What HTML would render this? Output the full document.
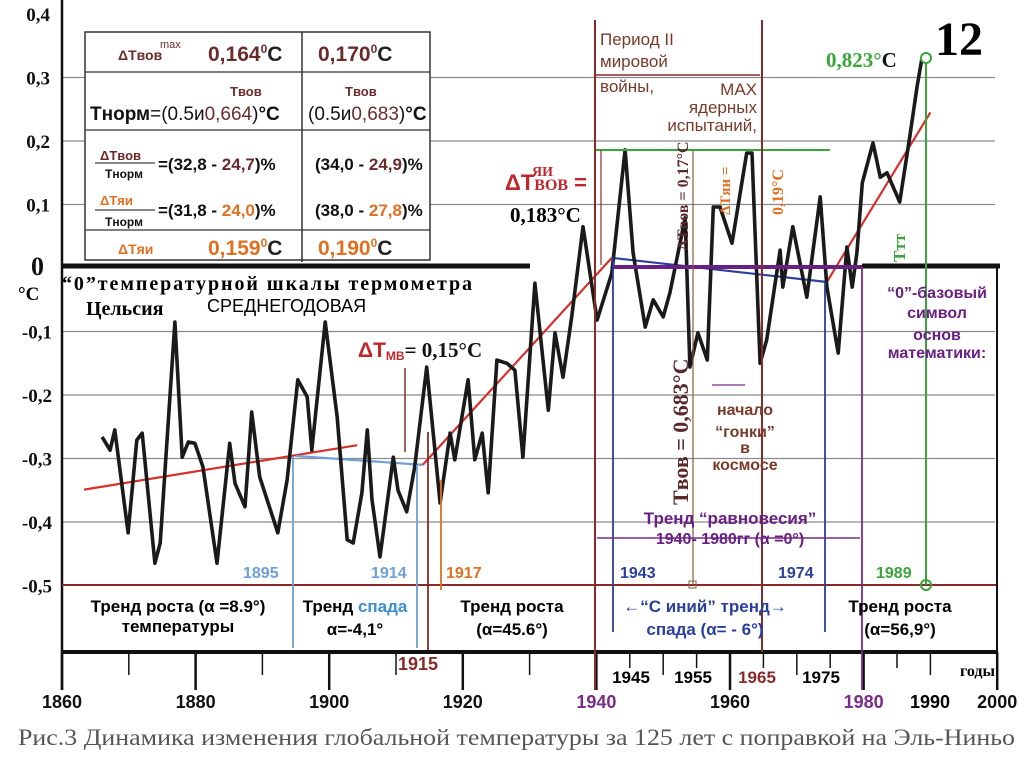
<!DOCTYPE html>
<html><head><meta charset="utf-8"><style>
html,body{margin:0;padding:0;background:#fff}
svg{display:block}
.s{font-family:"Liberation Sans",sans-serif}
.r{font-family:"Liberation Serif",serif}
</style></head><body>
<svg id="ch" width="1024" height="768" viewBox="0 0 1024 768">
<g id="grid"></g>
<g id="ann"></g>
<g id="marks"></g>
<g id="txt"></g>
</svg>
<script>
const years=[1866.0,1867.2,1867.9,1869.9,1871.2,1872.0,1873.9,1874.7,1876.9,1878.0,1878.9,1879.9,1881.1,1883.2,1885.1,1885.9,1887.4,1888.4,1889.6,1892.3,1893.7,1895.3,1896.7,1897.4,1899.4,1901.2,1902.7,1903.6,1904.9,1905.7,1906.4,1907.6,1909.6,1910.3,1911.6,1912.8,1914.6,1916.6,1918.1,1918.8,1920.8,1921.8,1922.9,1923.8,1925.1,1926.6,1927.8,1929.0,1930.8,1932.8,1933.8,1935.0,1936.3,1938.0,1940.1,1942.3,1944.3,1945.5,1947.3,1948.5,1950.0,1951.0,1953.3,1954.0,1955.2,1956.6,1957.5,1958.5,1960.3,1962.5,1963.3,1964.5,1965.5,1967.5,1967.9,1969.4,1971.5,1973.5,1974.5,1976.2,1977.5,1978.3,1979.0,1979.8,1981.4,1982.5,1983.5,1985.4,1986.9,1988.0,1988.7];
const temps=[-0.266,-0.287,-0.255,-0.417,-0.271,-0.260,-0.465,-0.433,-0.085,-0.298,-0.274,-0.276,-0.313,-0.465,-0.276,-0.339,-0.376,-0.227,-0.329,-0.417,-0.334,-0.176,-0.203,-0.287,-0.085,-0.235,-0.428,-0.433,-0.354,-0.255,-0.365,-0.455,-0.298,-0.350,-0.384,-0.313,-0.156,-0.370,-0.260,-0.302,-0.176,-0.302,-0.260,-0.354,-0.145,-0.150,-0.161,-0.298,-0.024,-0.224,-0.102,-0.172,-0.077,0.065,-0.082,-0.008,0.186,0.024,-0.093,-0.050,-0.077,-0.039,0.079,-0.156,-0.102,-0.145,0.096,0.096,0.039,0.181,0.181,-0.150,-0.113,0.028,-0.030,0.065,-0.046,0.112,-0.030,-0.134,0.033,-0.030,0.024,0.134,0.197,0.143,0.150,0.104,0.206,0.285,0.328];
const trendStartYears=[1863.3,1895,1914,1942.3,1974.5];
const trendStartVals=[-0.349,-0.296,-0.310,0.016,-0.022];
const trendEndYears=[1904.2,1914,1942.3,1974.5,1990.0];
const trendEndVals=[-0.279,-0.310,0.016,-0.022,0.245];
const trendColors=["#d8302a","#6f9fd8","#d8302a","#2a3f9e","#d8302a"];
const yTicks=[0.4,0.3,0.2,0.1,0,-0.1,-0.2,-0.3,-0.4,-0.5];
const yTickLabels=["0,4","0,3","0,2","0,1","0","-0,1","-0,2","-0,3","-0,4","-0,5"];
const xMajor=[1860,1880,1900,1920,1940,1960,1980,2000];
const xMinor=[1870,1890,1910,1930,1945,1950,1955,1965,1970,1975,1985,1990];
const xs=y=>62+6.68*(y-1860);
const ys=t=>268-635*t;
const NS="http://www.w3.org/2000/svg";
function mk(parent,tag,attrs,text){const e=document.createElementNS(NS,tag);for(const k in attrs)e.setAttribute(k,attrs[k]);if(text!==undefined)e.textContent=text;document.getElementById(parent).appendChild(e);return e;}
yTicks.forEach((t,i)=>{
 if(t!==0&&t!==-0.5&&t!==0.4){const l=mk('grid','line',{x1:62,x2:995,y1:ys(t),y2:ys(t),stroke:'#8a8a8a','stroke-width':1.2});
 
 }
 const tx=mk('txt','text',{x:t===0?44:(t<0?52:50),y:ys(t)+7,'text-anchor':'end',class:'r','font-weight':'bold','font-size':t===0?26:19,fill:'#111'},yTickLabels[i]);
 
 
});
xMajor.forEach(y=>{const l=mk('grid','line',{x1:xs(y),x2:xs(y),y1:652,y2:690,stroke:'#111','stroke-width':2.5});
 
 
 const t=mk('txt','text',{x:xs(y),y:708,'text-anchor':'middle',class:'s','font-weight':'bold','font-size':18,fill:y===1940||y===1980?'#7a2a8a':'#111'},String(y));
 
 });
xMinor.forEach(y=>{const l=mk('grid','line',{x1:xs(y),x2:xs(y),y1:652,y2:y%10===0?675:668,stroke:'#111','stroke-width':1.5});
 
 });
trendStartYears.forEach((y,i)=>{const l=mk('marks','line',{x1:xs(y),y1:ys(trendStartVals[i]),x2:xs(trendEndYears[i]),y2:ys(trendEndVals[i]),stroke:trendColors[i],'stroke-width':2.2});
 
 });
const d=years.map((y,i)=>(i?'L':'M')+xs(y).toFixed(1)+','+ys(temps[i]).toFixed(1)).join(' ');
const p=mk('marks','path',{d:d,fill:'none',stroke:'#1a1a1a','stroke-width':3.6,'stroke-linejoin':'round'});


</script>
<svg width="1024" height="768" viewBox="0 0 1024 768" style="position:absolute;left:0;top:0">
<g fill="none">
<line x1="62" y1="0" x2="62" y2="690" stroke="#111" stroke-width="2.5"/>
<line x1="62" y1="266" x2="530" y2="266" stroke="#111" stroke-width="5"/>
<line x1="862" y1="266" x2="1000" y2="266" stroke="#111" stroke-width="5"/>
<line x1="613" y1="267" x2="862" y2="267" stroke="#6a1f84" stroke-width="4"/>
<line x1="62" y1="585" x2="998" y2="585" stroke="#8b2a2a" stroke-width="2"/>
<line x1="62" y1="652" x2="998" y2="652" stroke="#111" stroke-width="4"/>
<line x1="997" y1="268" x2="997" y2="690" stroke="#111" stroke-width="2"/>
<line x1="595" y1="150" x2="830" y2="150" stroke="#3aa53a" stroke-width="2"/>
<line x1="293" y1="456" x2="293" y2="648" stroke="#6f9fd8" stroke-width="1.8"/>
<line x1="417" y1="465" x2="417" y2="648" stroke="#6f9fd8" stroke-width="1.8"/>
<line x1="428" y1="432" x2="428" y2="650" stroke="#8b2a2a" stroke-width="1.8"/>
<line x1="441" y1="480" x2="441" y2="590" stroke="#e07020" stroke-width="1.8"/>
<line x1="595" y1="20" x2="595" y2="690" stroke="#8b2a2a" stroke-width="2"/>
<line x1="601" y1="150" x2="601" y2="265" stroke="#8b2a2a" stroke-width="1.2"/>
<line x1="613" y1="257" x2="613" y2="632" stroke="#2a3f9e" stroke-width="1.8"/>
<line x1="693" y1="150" x2="693" y2="585" stroke="#8b5a3a" stroke-width="1.2"/>
<rect x="689" y="581" width="7" height="7" stroke="#8b5a3a"/>
<line x1="762" y1="20" x2="762" y2="652" stroke="#8b2a2a" stroke-width="2"/>
<line x1="825" y1="282" x2="825" y2="632" stroke="#2a3f9e" stroke-width="1.8"/>
<line x1="862" y1="267" x2="862" y2="690" stroke="#7a2a8a" stroke-width="1.8"/>
<line x1="926" y1="60" x2="926" y2="585" stroke="#3aa53a" stroke-width="2"/>
<circle cx="926" cy="58" r="5" stroke="#3aa53a" stroke-width="2" fill="#fff"/>
<circle cx="926" cy="585" r="5" stroke="#3aa53a" stroke-width="2"/>
<line x1="595" y1="75" x2="760" y2="75" stroke="#8b2a2a" stroke-width="1.5"/>
<line x1="405" y1="368" x2="405" y2="452" stroke="#8b2a2a" stroke-width="1.5"/>
<line x1="597" y1="538" x2="860" y2="538" stroke="#7a2a8a" stroke-width="1.5"/>
<line x1="712" y1="385" x2="745" y2="385" stroke="#7a2a8a" stroke-width="1.2"/>
</g>
<g font-family="Liberation Sans,sans-serif" font-weight="bold">
<rect x="85" y="32" width="345" height="228" fill="#fff" stroke="#333" stroke-width="1.5"/>
<line x1="302" y1="32" x2="302" y2="262" stroke="#333" stroke-width="1.5"/>
<line x1="85" y1="72" x2="430" y2="72" stroke="#333" stroke-width="1.2"/>
<line x1="85" y1="130" x2="430" y2="130" stroke="#333" stroke-width="1.2"/>
<line x1="85" y1="230" x2="430" y2="230" stroke="#333" stroke-width="1.2"/>
<text x="118" y="60" font-size="14" fill="#6b2b2b">ΔTвов</text><text x="160" y="48" font-size="11" font-weight="normal" fill="#6b2b2b">max</text>
<text x="208" y="61" font-size="21" fill="#6b2b2b">0,164<tspan font-size="12" dy="-8">0</tspan><tspan dy="8" fill="#222">C</tspan></text>
<text x="318" y="61" font-size="21" fill="#6b2b2b">0,170<tspan font-size="12" dy="-8">0</tspan><tspan dy="8" fill="#222">C</tspan></text>
<text x="230" y="96" font-size="13" fill="#6b2b2b">Tвов</text><text x="345" y="96" font-size="13" fill="#6b2b2b">Tвов</text>
<text x="90" y="120" font-size="19" fill="#111">Tнорм<tspan font-weight="normal">=(0.5и</tspan><tspan font-weight="normal" fill="#6b2b2b">0,664</tspan><tspan font-weight="normal">)</tspan>°C</text>
<text x="308" y="120" font-size="19" font-weight="normal" fill="#111">(0.5и<tspan fill="#6b2b2b">0,683</tspan>)<tspan font-weight="bold">°C</tspan></text>
<text x="100" y="160" font-size="13" fill="#6b2b2b">ΔTвов</text><line x1="95" y1="163" x2="155" y2="163" stroke="#111"/><text x="105" y="178" font-size="12" fill="#111">Tнорм</text>
<text x="158" y="170" font-size="17" fill="#111">=(32,8 - <tspan fill="#6b2b2b">24,7</tspan>)%</text>
<text x="315" y="170" font-size="17" fill="#111">(34,0 - <tspan fill="#6b2b2b">24,9</tspan>)%</text>
<text x="100" y="205" font-size="13" fill="#e07020">ΔTяи</text><line x1="95" y1="210" x2="155" y2="210" stroke="#111"/><text x="105" y="226" font-size="12" fill="#111">Tнорм</text>
<text x="158" y="216" font-size="17" fill="#111">=(31,8 - <tspan fill="#e07020">24,0</tspan>)%</text>
<text x="315" y="216" font-size="17" fill="#111">(38,0 - <tspan fill="#e07020">27,8</tspan>)%</text>
<text x="118" y="254" font-size="14" fill="#e07020">ΔTяи</text>
<text x="208" y="255" font-size="21" fill="#e07020">0,159<tspan font-size="12" dy="-8">0</tspan><tspan dy="8" fill="#222">C</tspan></text>
<text x="318" y="255" font-size="21" fill="#e07020">0,190<tspan font-size="12" dy="-8">0</tspan><tspan dy="8" fill="#222">C</tspan></text>
</g>
<g font-family="Liberation Sans,sans-serif">
<text x="935" y="55" font-family="Liberation Serif,serif" font-weight="bold" font-size="48" fill="#000">12</text>
<text x="18" y="300" font-family="Liberation Serif,serif" font-weight="bold" font-size="19">°C</text>
<text x="62" y="290" font-family="Liberation Serif,serif" font-weight="bold" font-size="20" textLength="410">“0”температурной шкалы термометра</text>
<text x="86" y="315" font-family="Liberation Serif,serif" font-weight="bold" font-size="20">Цельсия</text>
<text x="207" y="312" font-size="18">СРЕДНЕГОДОВАЯ</text>
<text x="358" y="357" font-size="21" font-weight="bold" fill="#c0262b">ΔT<tspan font-size="12" dy="3">MB</tspan><tspan font-family="Liberation Serif,serif" fill="#111" dy="-3">= 0,15°C</tspan></text>
<text x="505" y="190" font-size="22" font-weight="bold" fill="#c0262b">ΔT<tspan font-family="Liberation Serif,serif" font-size="16">ВОВ</tspan> =</text>
<text x="532" y="176" font-family="Liberation Serif,serif" font-size="14" font-weight="bold" fill="#c0262b">ЯИ</text>
<text x="510" y="222" font-family="Liberation Serif,serif" font-weight="bold" font-size="21">0,183°C</text>
<text x="600" y="45" font-size="17" fill="#7a3a2a">Период II</text>
<text x="600" y="67" font-size="17" fill="#7a3a2a">мировой</text>
<text x="600" y="92" font-size="17" fill="#7a3a2a">войны,</text>
<text x="757" y="95" font-size="17" fill="#7a3a2a" text-anchor="end">MAX</text>
<text x="757" y="113" font-size="17" fill="#7a3a2a" text-anchor="end">ядерных</text>
<text x="757" y="131" font-size="17" fill="#7a3a2a" text-anchor="end">испытаний,</text>
<text x="826" y="67" font-family="Liberation Serif,serif" font-weight="bold" font-size="21" fill="#3aa53a">0,823°<tspan fill="#111">C</tspan></text>
<text transform="translate(688,250) rotate(-90)" font-family="Liberation Serif,serif" font-weight="bold" font-size="16" fill="#5a2a2a">ΔTвов = 0,17°C</text>
<text transform="translate(730,215) rotate(-90)" font-family="Liberation Serif,serif" font-weight="bold" font-size="15" fill="#e07020">ΔTяи =</text>
<text transform="translate(783,215) rotate(-90)" font-family="Liberation Serif,serif" font-weight="bold" font-size="16" fill="#e07020">0,19°C</text>
<text transform="translate(688,505) rotate(-90)" font-family="Liberation Serif,serif" font-weight="bold" font-size="22" fill="#5a2a2a">Tвов = 0,683°C</text>
<text transform="translate(905,262) rotate(-90)" font-family="Liberation Serif,serif" font-weight="bold" font-size="17" fill="#3aa53a">Tтт</text>
<text x="937" y="298" font-size="16" font-weight="bold" fill="#6a1f84" text-anchor="middle">“0”-базовый</text>
<text x="937" y="318" font-size="16" font-weight="bold" fill="#6a1f84" text-anchor="middle">символ</text>
<text x="937" y="340" font-size="16" font-weight="bold" fill="#6a1f84" text-anchor="middle">основ</text>
<text x="937" y="358" font-size="16" font-weight="bold" fill="#6a1f84" text-anchor="middle">математики:</text>
<text x="745" y="415" font-size="16" font-weight="bold" fill="#7a3a2a" text-anchor="middle">начало</text>
<text x="745" y="437" font-size="16" font-weight="bold" fill="#7a3a2a" text-anchor="middle">“гонки”</text>
<text x="745" y="453" font-size="16" font-weight="bold" fill="#7a3a2a" text-anchor="middle">в</text>
<text x="745" y="470" font-size="16" font-weight="bold" fill="#7a3a2a" text-anchor="middle">космосе</text>
<text x="730" y="524" font-size="17" font-weight="bold" fill="#6a1f84" text-anchor="middle">Тренд “равновесия”</text>
<text x="730" y="544" font-size="16" font-weight="bold" fill="#6a1f84" text-anchor="middle">1940- 1980гг (α =0°)</text>
<text x="243" y="578" font-size="16" font-weight="bold" fill="#6f9fd8">1895</text>
<text x="371" y="578" font-size="16" font-weight="bold" fill="#6f9fd8">1914</text>
<text x="446" y="578" font-size="16" font-weight="bold" fill="#e07020">1917</text>
<text x="620" y="578" font-size="16" font-weight="bold" fill="#2a3f9e">1943</text>
<text x="778" y="578" font-size="16" font-weight="bold" fill="#2a3f9e">1974</text>
<text x="876" y="578" font-size="16" font-weight="bold" fill="#3aa53a">1989</text>
<g font-weight="bold">
<text x="178" y="612" font-size="17" text-anchor="middle">Тренд роста (α =8.9°)</text>
<text x="178" y="632" font-size="17" text-anchor="middle">температуры</text>
<text x="355" y="612" font-size="17" text-anchor="middle">Тренд <tspan fill="#3a8fd0">спада</tspan></text>
<text x="355" y="635" font-size="17" text-anchor="middle">α=-4,1°</text>
<text x="512" y="612" font-size="17" text-anchor="middle">Тренд роста</text>
<text x="512" y="635" font-size="17" text-anchor="middle">(α=45.6°)</text>
<text x="705" y="612" font-size="17" fill="#2a3f9e" text-anchor="middle">←“С иний” тренд→</text>
<text x="705" y="635" font-size="17" fill="#2a3f9e" text-anchor="middle">спада (α= - 6°)</text>
<text x="900" y="612" font-size="17" text-anchor="middle">Тренд роста</text>
<text x="900" y="635" font-size="17" text-anchor="middle">(α=56,9°)</text>
</g>
<text x="418" y="670" font-size="18" font-weight="bold" fill="#8b2a2a" text-anchor="middle">1915</text>
<text x="631" y="683" font-size="17" font-weight="bold" text-anchor="middle">1945</text>
<text x="693" y="683" font-size="17" font-weight="bold" text-anchor="middle">1955</text>
<text x="757" y="683" font-size="17" font-weight="bold" fill="#8b2a2a" text-anchor="middle">1965</text>
<text x="821" y="683" font-size="17" font-weight="bold" text-anchor="middle">1975</text>
<text x="930" y="708" font-size="18" font-weight="bold" text-anchor="middle">1990</text>
<text x="960" y="676" font-family="Liberation Serif,serif" font-weight="bold" font-size="16">годы</text>
<text x="18" y="745" font-family="Liberation Serif,serif" font-size="23" fill="#555" textLength="997" lengthAdjust="spacingAndGlyphs">Рис.3  Динамика изменения глобальной температуры за 125 лет с поправкой на Эль-Ниньо</text>
</g>
</svg>
</body></html>
